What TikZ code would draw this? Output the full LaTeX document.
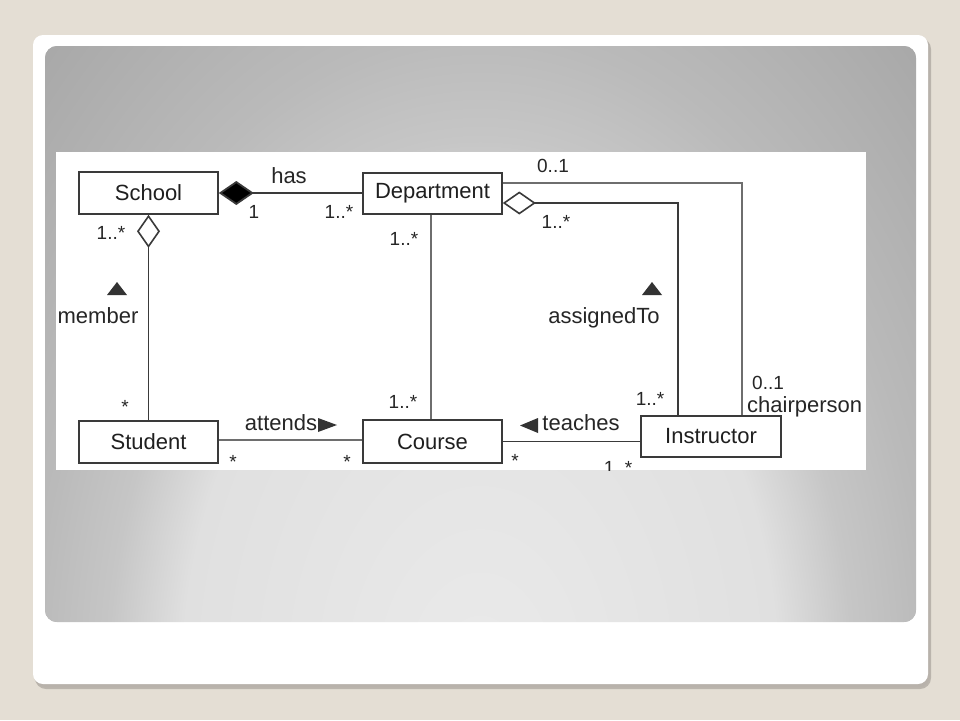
\documentclass[tikz,border=0pt]{standalone}
\usepackage{fontspec}
\setmainfont{Liberation Sans}
\usetikzlibrary{arrows.meta}
\definecolor{bgbeige}{HTML}{E4DED4}
\definecolor{pc1}{HTML}{EAEAEA}
\definecolor{pc2}{HTML}{E0E0E0}
\definecolor{pc3}{HTML}{C6C6C6}
\definecolor{pc4}{HTML}{BABABA}
\definecolor{pc5}{HTML}{A8A8A8}
\definecolor{linedark}{HTML}{3A3A3A}
\definecolor{linelight}{HTML}{6E6E6E}
\pgfdeclareradialshading{panelshade}{\pgfpoint{0bp}{0bp}}{color(0bp)=(pc1); color(12bp)=(pc2); color(15bp)=(pc3); color(18bp)=(pc4); color(25bp)=(pc5); color(50bp)=(pc5)}
\tikzset{
  classbox/.style={draw=linedark, fill=white, line width=1.6pt, minimum width=139pt, minimum height=42pt, inner sep=0pt, font=\fontsize{22}{25}\selectfont, text=black!88},
  conn/.style={draw=linedark, line width=1.8pt},
  connlight/.style={draw=linelight, line width=1.6pt},
  lbl/.style={anchor=base, inner sep=0pt, font=\fontsize{22}{25}\selectfont, text=black!85},
  mult/.style={anchor=base, inner sep=0pt, font=\fontsize{19}{22}\selectfont, text=black!85},
  tri/.style={fill=black!80},
  fdiam/.style={{Diamond[length=35pt,width=24pt,fill=black]}-},
  odiam/.style={{Diamond[length=33pt,width=23pt,open,fill=white,line width=1.6pt]}-},
}
\begin{document}
\begin{tikzpicture}[x=1pt,y=-1pt]
\useasboundingbox (0,0) rectangle (960,720);
\fill[bgbeige] (0,0) rectangle (960,720);
% card shadow
\fill[black!30!bgbeige, opacity=0.6, rounded corners=11pt] (35,38) rectangle (931,689);
\fill[black!20!bgbeige, opacity=0.6, rounded corners=11pt] (34,37) rectangle (930,687);
% white card
\fill[white, rounded corners=10pt] (33,35) rectangle (928,684);
% gray panel
\begin{scope}
  \clip[rounded corners=12pt] (45,46) rectangle (916,622);
  \fill[pc5] (45,46) rectangle (916,622);
  \shade[shading=panelshade] (480,680) ellipse (620pt and 900pt);
\end{scope}
% image area
\fill[white] (56,152) rectangle (866,470);
\begin{scope}
\clip (56,152) rectangle (866,470);
% classes
\node[classbox] (school) at (148.5,193) {School};
\node[classbox, minimum height=41pt] (dept) at (432.5,193.5) {Department};
\node[classbox] (student) at (148.5,442) {Student};
\node[classbox, minimum height=43pt] (course) at (432.5,441.5) {Course};
\node[classbox, minimum width=140pt, minimum height=41pt] (instr) at (711,436.5) {Instructor};
% connectors
\draw[conn, fdiam] (school.east) -- (school.east -| dept.west);
\draw[conn, odiam] (school.south) -- (student.north);
\draw[connlight] ([xshift=-1.5pt]dept.south) -- ([xshift=-1.5pt]course.north);
\draw[conn, odiam] ([yshift=-9.5pt]dept.east) -| ([xshift=-33pt]instr.north);
\draw[connlight] ([yshift=10.5pt]dept.east) -| ([xshift=31pt]instr.north);
\draw[connlight] ([yshift=2pt]student.east) -- ([yshift=2pt]student.east -| course.west);
\draw[conn] (course.east) -- (course.east -| instr.west);
% labels: has
\node[lbl] (lhas) at (289,183) {has};
\node[mult] (mhas1) at (254,218) {1};
\node[mult] (mhas2) at (339,218) {1..*};
% member
\node[mult] (mmem1) at (111,239) {1..*};
\fill[tri] (107,295) -- (127,295) -- (117,282) -- cycle;
\node[lbl] (lmem) at (98,323) {member};
\node[mult] (mmem2) at (125,413) {*};
% dept-course
\node[mult] (mdc1) at (404,245) {1..*};
\node[mult] (mdc2) at (403,408) {1..*};
% attends
\node[lbl] (latt) at (281,430) {attends};
\fill[tri] (318,418) -- (318,432) -- (337,425) -- cycle;
\node[mult] (matt1) at (233,468) {*};
\node[mult] (matt2) at (347,468) {*};
% chairperson
\node[mult] (mch1) at (553,172) {0..1};
\node[mult, anchor=base west] (mch2) at (752,389) {0..1};
\node[lbl, anchor=base west] (lch) at (747,412) {chairperson};
% assignedTo
\node[mult] (mas1) at (556,228) {1..*};
\fill[tri] (642,295) -- (662,295) -- (652,282) -- cycle;
\node[lbl] (las) at (604,323) {assignedTo};
\node[mult] (mas2) at (650,405) {1..*};
% teaches
\fill[tri] (538,418) -- (538,433) -- (520,425.5) -- cycle;
\node[lbl] (lteach) at (581,430) {teaches};
\node[mult] (mte1) at (515,467) {*};
\node[mult] (mte2) at (618,474) {1..*};
\end{scope}
\end{tikzpicture}
\end{document}
